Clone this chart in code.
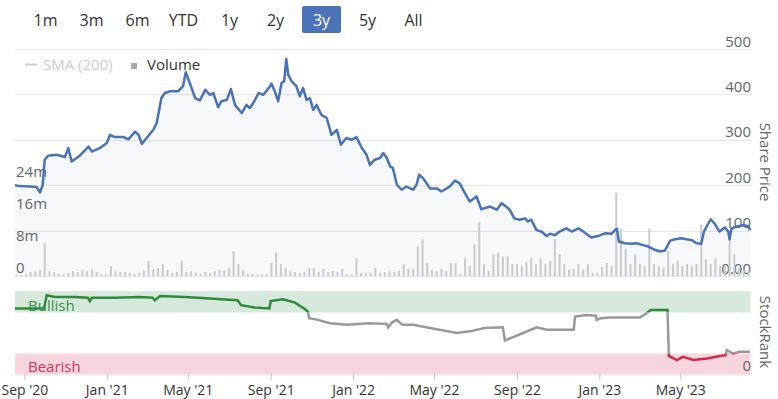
<!DOCTYPE html>
<html>
<head>
<meta charset="utf-8">
<script src="https://cdn.jsdelivr.net/npm/d3@7"></script>
<style>
  body { margin: 0; background: #fff; }
  svg { display: block; font-family: 'Open Sans', sans-serif; }
</style>
</head>
<body>
<div id="chart"></div>
<script>
// range selector buttons
const rangeButtons = ['1m', '3m', '6m', 'YTD', '1y', '2y', '3y', '5y', 'All']
const selectedRange = '3y'

// share price
const prices = [
  ['2020-08-18', 200], ['2020-08-25', 198], ['2020-09-09', 197], ['2020-09-19', 196],
  ['2020-09-24', 184], ['2020-09-28', 200], ['2020-10-01', 256], ['2020-10-06', 265],
  ['2020-10-19', 267], ['2020-10-31', 262], ['2020-11-05', 282], ['2020-11-10', 252],
  ['2020-11-22', 265], ['2020-12-05', 285], ['2020-12-10', 274], ['2020-12-22', 282],
  ['2021-01-01', 293], ['2021-01-06', 311], ['2021-01-13', 306], ['2021-01-26', 306],
  ['2021-02-02', 301], ['2021-02-12', 318], ['2021-02-17', 311], ['2021-02-22', 291],
  ['2021-03-01', 304], ['2021-03-11', 322], ['2021-03-16', 337], ['2021-03-23', 392],
  ['2021-03-28', 403], ['2021-04-05', 407], ['2021-04-17', 407], ['2021-04-24', 418],
  ['2021-04-28', 449], ['2021-05-04', 425], ['2021-05-12', 392], ['2021-05-19', 387],
  ['2021-05-27', 410], ['2021-06-03', 399], ['2021-06-08', 403], ['2021-06-15', 372],
  ['2021-06-20', 385], ['2021-06-28', 388], ['2021-07-04', 412], ['2021-07-10', 377],
  ['2021-07-20', 359], ['2021-07-27', 377], ['2021-08-01', 370], ['2021-08-06', 381],
  ['2021-08-14', 403], ['2021-08-21', 399], ['2021-08-31', 418], ['2021-09-02', 424],
  ['2021-09-07', 407], ['2021-09-12', 385], ['2021-09-17', 425], ['2021-09-21', 429],
  ['2021-09-24', 478], ['2021-09-27', 443], ['2021-10-02', 429], ['2021-10-09', 418],
  ['2021-10-14', 396], ['2021-10-19', 414], ['2021-10-24', 388], ['2021-10-29', 392],
  ['2021-11-03', 366], ['2021-11-08', 377], ['2021-11-15', 355], ['2021-11-23', 348],
  ['2021-11-30', 311], ['2021-12-08', 322], ['2021-12-14', 289], ['2021-12-22', 304],
  ['2021-12-30', 300], ['2022-01-06', 306], ['2022-01-14', 282], ['2022-01-21', 267],
  ['2022-01-26', 245], ['2022-02-02', 256], ['2022-02-10', 260], ['2022-02-15', 271],
  ['2022-02-20', 260], ['2022-02-25', 241], ['2022-03-01', 238], ['2022-03-07', 201],
  ['2022-03-14', 190], ['2022-03-21', 197], ['2022-03-31', 190], ['2022-04-05', 201],
  ['2022-04-09', 223], ['2022-04-15', 215], ['2022-04-25', 193], ['2022-05-05', 193],
  ['2022-05-12', 186], ['2022-05-24', 197], ['2022-06-01', 210], ['2022-06-08', 204],
  ['2022-06-16', 182], ['2022-06-23', 164], ['2022-07-03', 175], ['2022-07-10', 147],
  ['2022-07-23', 153], ['2022-08-02', 146], ['2022-08-09', 160], ['2022-08-16', 153],
  ['2022-08-21', 146], ['2022-08-28', 127], ['2022-09-05', 124], ['2022-09-13', 127],
  ['2022-09-17', 120], ['2022-09-22', 124], ['2022-09-30', 101], ['2022-10-07', 98],
  ['2022-10-15', 88], ['2022-10-20', 93], ['2022-10-27', 90], ['2022-11-03', 98],
  ['2022-11-13', 105], ['2022-11-21', 98], ['2022-12-01', 105], ['2022-12-08', 98],
  ['2022-12-20', 85], ['2022-12-30', 88], ['2023-01-09', 94], ['2023-01-19', 93],
  ['2023-01-24', 101], ['2023-01-27', 104], ['2023-01-30', 76], ['2023-02-08', 72],
  ['2023-02-18', 71], ['2023-02-25', 72], ['2023-03-07', 68], ['2023-03-14', 65],
  ['2023-03-22', 59], ['2023-04-01', 54], ['2023-04-08', 56], ['2023-04-16', 78],
  ['2023-04-23', 81], ['2023-05-03', 83], ['2023-05-10', 81], ['2023-05-18', 79],
  ['2023-05-25', 72], ['2023-06-01', 71], ['2023-06-05', 98], ['2023-06-09', 109],
  ['2023-06-15', 125], ['2023-06-21', 115], ['2023-06-28', 98], ['2023-07-06', 107],
  ['2023-07-11', 98], ['2023-07-13', 81], ['2023-07-16', 105], ['2023-07-23', 109],
  ['2023-08-02', 112], ['2023-08-09', 110], ['2023-08-13', 101]
]

// weekly volume in millions, first week starting 17 Aug 2020
const volumeStart = '2020-08-17'
const volume = [
  0.3, 0.3, 0.5, 1.0, 1.2, 1.5, 8.4, 1.2, 1.0, 0.6,
  0.4, 0.8, 1.2, 1.0, 1.5, 1.2, 1.6, 1.0, 0.5, 0.4,
  2.5, 1.2, 1.0, 1.0, 0.8, 0.5, 0.8, 1.2, 3.8, 1.8,
  2.0, 3.0, 1.6, 0.8, 1.0, 3.8, 1.0, 1.2, 0.8, 0.6,
  1.0, 0.7, 1.2, 1.6, 1.4, 2.0, 6.3, 3.0, 1.5, 0.6,
  0.5, 0.4, 0.4, 0.5, 3.3, 6.0, 3.0, 2.0, 1.2, 1.0,
  0.8, 1.0, 2.0, 2.0, 1.0, 1.8, 1.0, 1.2, 1.0, 1.8,
  0.4, 0.4, 4.6, 0.8, 0.8, 0.8, 2.0, 0.8, 1.0, 1.2,
  1.0, 1.3, 3.0, 1.8, 1.8, 7.4, 9.3, 3.3, 1.5, 1.2,
  1.8, 1.2, 3.3, 3.3, 0.5, 4.6, 2.5, 8.0, 13.6, 3.0,
  1.3, 5.5, 5.8, 5.0, 5.0, 3.0, 3.0, 2.6, 3.5, 4.5,
  3.0, 4.5, 3.0, 3.8, 9.3, 5.5, 3.0, 1.6, 1.8, 3.0,
  1.6, 3.0, 0.8, 0.8, 2.3, 3.3, 2.5, 21.0, 12.0, 6.8,
  3.0, 5.5, 3.0, 2.5, 12.0, 3.0, 2.5, 2.2, 6.3, 3.0,
  3.8, 2.5, 3.0, 2.5, 3.0, 13.0, 4.3, 3.0, 4.5, 2.5,
  2.5, 10.5, 5.5, 2.0, 1.5, 1.5
]

// StockRank (0-100)
const stockRank = [
  ['2020-08-18', 80], ['2020-09-30', 80], ['2020-10-04', 96], ['2020-10-16', 94],
  ['2020-11-15', 94], ['2020-12-04', 93], ['2020-12-07', 89], ['2020-12-10', 93],
  ['2021-01-13', 93], ['2021-02-19', 94], ['2021-03-10', 93], ['2021-03-13', 90],
  ['2021-03-21', 95], ['2021-04-27', 94], ['2021-06-03', 92], ['2021-06-25', 91],
  ['2021-07-14', 90], ['2021-07-19', 84], ['2021-08-08', 81], ['2021-08-30', 80],
  ['2021-09-01', 89], ['2021-09-19', 91], ['2021-10-07', 87], ['2021-10-22', 79],
  ['2021-10-26', 76], ['2021-10-28', 68], ['2021-11-10', 66], ['2021-11-28', 62],
  ['2021-12-23', 60], ['2022-01-26', 62], ['2022-02-20', 61], ['2022-02-22', 57],
  ['2022-02-28', 63], ['2022-03-07', 66], ['2022-03-15', 60], ['2022-03-31', 60],
  ['2022-04-25', 56], ['2022-06-04', 50], ['2022-06-23', 52], ['2022-07-15', 56],
  ['2022-08-11', 57], ['2022-08-14', 41], ['2022-08-26', 45], ['2022-09-10', 50],
  ['2022-09-30', 57], ['2022-10-15', 54], ['2022-11-24', 54], ['2022-11-26', 70],
  ['2022-12-13', 72], ['2022-12-27', 71], ['2022-12-28', 66], ['2023-01-03', 68],
  ['2023-01-17', 69], ['2023-03-02', 69], ['2023-03-12', 74], ['2023-03-18', 78],
  ['2023-04-12', 78], ['2023-04-14', 22], ['2023-04-26', 17], ['2023-05-05', 21],
  ['2023-05-20', 17], ['2023-06-10', 19], ['2023-06-29', 22], ['2023-07-07', 23],
  ['2023-07-09', 29], ['2023-07-18', 25], ['2023-07-28', 27], ['2023-08-12', 27]
]

const dateStart = '2020-08-18'
const dateEnd = '2023-08-13'
const dateTicks = ['2020-09-01', '2021-01-01', '2021-05-01', '2021-09-01', '2022-01-01',
  '2022-05-01', '2022-09-01', '2023-01-01', '2023-05-01']
const priceTicks = [0, 100, 200, 300, 400, 500]
const volumeTicks = [0, 8, 16, 24]
const bullishLevel = 75
const bearishLevel = 25

const width = 778
const height = 399
const plot = { left: 15, right: 750.5 }
const pricePane = { top: 49, bottom: 276 }
const rankPane = { top: 292, bottom: 374 }

const parse = d3.timeParse('%Y-%m-%d')

const svg = d3
  .select('#chart')
  .append('svg')
  .attr('width', width)
  .attr('height', height)

const xPositionScale = d3
  .scaleTime()
  .domain([parse(dateStart), parse(dateEnd)])
  .range([plot.left, plot.right])

const priceScale = d3
  .scaleLinear()
  .domain([0, 500])
  .range([pricePane.bottom, pricePane.top])

const volumeScale = d3
  .scaleLinear()
  .domain([0, 57.3])
  .range([pricePane.bottom, pricePane.top])

const rankScale = d3
  .scaleLinear()
  .domain([0, 100])
  .range([rankPane.bottom, rankPane.top])

// range selector
const buttons = svg
  .selectAll('.range-btn')
  .data(rangeButtons)
  .enter()
  .append('g')
  .attr('class', 'range-btn')
  .attr('transform', (d, i) => 'translate(' + (45.5 + i * 46) + ',0)')

buttons
  .filter(d => d === selectedRange)
  .append('rect')
  .attr('x', -19.5)
  .attr('y', 6)
  .attr('width', 39)
  .attr('height', 27)
  .attr('rx', 2)
  .attr('fill', '#4b73b8')

buttons
  .append('text')
  .text(d => d)
  .attr('text-anchor', 'middle')
  .attr('y', 25.5)
  .attr('font-size', 16)
  .attr('fill', d => (d === selectedRange ? '#fff' : '#333'))

// price grid + right axis labels
const priceAxis = d3
  .axisRight(priceScale)
  .tickValues(priceTicks)
  .tickSize(0)
  .tickFormat(d => (d === 0 ? '0.00' : d))

const gridG = svg.append('g').attr('class', 'grid')
gridG
  .selectAll('line')
  .data(priceTicks)
  .enter()
  .append('line')
  .attr('x1', plot.left)
  .attr('x2', plot.right + 1)
  .attr('y1', d => Math.round(priceScale(d)) + 0.5)
  .attr('y2', d => Math.round(priceScale(d)) + 0.5)
  .attr('stroke', '#e6e6e6')

svg
  .append('g')
  .attr('class', 'axis price-axis')
  .attr('transform', 'translate(751,0)')
  .call(priceAxis)
  .call(g => g.select('.domain').remove())
  .call(g =>
    g
      .selectAll('text')
      .attr('x', 0)
      .attr('y', 0)
      .attr('dy', -3)
      .attr('text-anchor', 'end')
      .attr('font-size', 15)
      .attr('font-family', "'Open Sans', sans-serif")
      .attr('fill', '#666')
  )

// volume left labels
const volumeAxis = d3
  .axisLeft(volumeScale)
  .tickValues(volumeTicks)
  .tickSize(0)
  .tickFormat(d => (d === 0 ? '0' : d + 'm'))

svg
  .append('g')
  .attr('class', 'axis volume-axis')
  .attr('transform', 'translate(' + plot.left + ',0)')
  .call(volumeAxis)
  .call(g => g.select('.domain').remove())
  .call(g =>
    g
      .selectAll('text')
      .attr('x', 1)
      .attr('y', 0)
      .attr('dy', -4)
      .attr('text-anchor', 'start')
      .attr('font-size', 15)
      .attr('font-family', "'Open Sans', sans-serif")
      .attr('fill', '#666')
  )

// clip for price pane
svg
  .append('clipPath')
  .attr('id', 'price-clip')
  .append('rect')
  .attr('x', plot.left)
  .attr('y', pricePane.top - 10)
  .attr('width', plot.right - plot.left + 1)
  .attr('height', pricePane.bottom - pricePane.top + 10)

const priceG = svg.append('g').attr('clip-path', 'url(#price-clip)')

const priceData = prices.map(d => ({ date: parse(d[0]), value: d[1] }))

priceG
  .append('path')
  .datum(priceData)
  .attr('fill', 'rgba(75,115,184,0.05)')
  .attr(
    'd',
    d3
      .area()
      .x(d => xPositionScale(d.date))
      .y0(pricePane.bottom)
      .y1(d => priceScale(d.value))
  )

// volume bars
const weekStart = parse(volumeStart)
priceG
  .selectAll('.vol')
  .data(volume)
  .enter()
  .append('rect')
  .attr('class', 'vol')
  .attr('x', (d, i) => xPositionScale(d3.timeDay.offset(weekStart, i * 7 + 3)) - 1)
  .attr('width', 2)
  .attr('y', d => volumeScale(d))
  .attr('height', d => pricePane.bottom - volumeScale(d))
  .attr('fill', '#c9cacf')

priceG
  .append('path')
  .datum(priceData)
  .attr('fill', 'none')
  .attr('stroke', '#4a72b6')
  .attr('stroke-width', 2.5)
  .attr('stroke-linejoin', 'round')
  .attr(
    'd',
    d3
      .line()
      .x(d => xPositionScale(d.date))
      .y(d => priceScale(d.value))
  )

// legend
svg
  .append('line')
  .attr('x1', 25)
  .attr('x2', 37)
  .attr('y1', 64.5)
  .attr('y2', 64.5)
  .attr('stroke', '#ccc')
  .attr('stroke-width', 2)
svg
  .append('text')
  .text('SMA (200)')
  .attr('x', 43)
  .attr('y', 69.5)
  .attr('font-size', 15)
  .attr('fill', '#ccc')
svg
  .append('rect')
  .attr('x', 131)
  .attr('y', 63)
  .attr('width', 6)
  .attr('height', 6)
  .attr('fill', '#aaa')
svg
  .append('text')
  .text('Volume')
  .attr('x', 147)
  .attr('y', 69.5)
  .attr('font-size', 15)
  .attr('fill', '#333')

// axis titles
svg
  .append('text')
  .text('Share Price')
  .attr('transform', 'translate(760,162) rotate(90)')
  .attr('text-anchor', 'middle')
  .attr('font-size', 15)
  .attr('fill', '#666')
svg
  .append('text')
  .text('StockRank')
  .attr('transform', 'translate(760,332) rotate(90)')
  .attr('text-anchor', 'middle')
  .attr('font-size', 15)
  .attr('fill', '#666')

// stockrank pane
svg
  .append('line')
  .attr('x1', plot.left)
  .attr('x2', plot.right + 1)
  .attr('y1', rankPane.top - 0.5)
  .attr('y2', rankPane.top - 0.5)
  .attr('stroke', '#e6e6e6')

svg
  .append('rect')
  .attr('x', plot.left)
  .attr('width', plot.right - plot.left)
  .attr('y', rankScale(100))
  .attr('height', rankScale(bullishLevel) - rankScale(100))
  .attr('fill', '#d6e9dc')
svg
  .append('rect')
  .attr('x', plot.left)
  .attr('width', plot.right - plot.left)
  .attr('y', rankScale(bearishLevel))
  .attr('height', rankScale(0) - rankScale(bearishLevel))
  .attr('fill', '#f6d6dc')

svg
  .append('text')
  .text('Bullish')
  .attr('x', 28)
  .attr('y', 310.5)
  .attr('font-size', 15)
  .attr('fill', '#3b8f48')
svg
  .append('text')
  .text('Bearish')
  .attr('x', 28)
  .attr('y', 372)
  .attr('font-size', 15)
  .attr('fill', '#d7325c')

svg
  .append('text')
  .text('0')
  .attr('x', 751)
  .attr('y', 371)
  .attr('text-anchor', 'end')
  .attr('font-size', 15)
  .attr('fill', '#666')

const rankData = stockRank.map(d => ({ date: parse(d[0]), value: d[1] }))
const rankLine = d3
  .line()
  .x(d => xPositionScale(d.date))
  .y(d => rankScale(d.value))

const zones = [
  { id: 'zone-bull', y0: 0, y1: rankScale(bullishLevel), color: '#2e8b3c' },
  { id: 'zone-mid', y0: rankScale(bullishLevel), y1: rankScale(bearishLevel), color: '#999' },
  { id: 'zone-bear', y0: rankScale(bearishLevel), y1: height, color: '#cc2b4e' }
]

zones.forEach(z => {
  svg
    .append('clipPath')
    .attr('id', z.id)
    .append('rect')
    .attr('x', plot.left)
    .attr('y', z.y0)
    .attr('width', plot.right - plot.left + 1)
    .attr('height', z.y1 - z.y0)

  svg
    .append('path')
    .datum(rankData)
    .attr('clip-path', 'url(#' + z.id + ')')
    .attr('fill', 'none')
    .attr('stroke', z.color)
    .attr('stroke-width', 2.5)
    .attr('d', rankLine)
})

// bottom date axis
const xAxis = d3
  .axisBottom(xPositionScale)
  .tickValues(dateTicks.map(parse))
  .tickSize(7)
  .tickSizeOuter(0)
  .tickFormat(d3.timeFormat("%b '%y"))

svg
  .append('g')
  .attr('class', 'axis x-axis')
  .attr('transform', 'translate(0,' + (rankPane.bottom + 0.5) + ')')
  .call(xAxis)
  .call(g => g.select('.domain').attr('stroke', '#e0e0e0'))
  .call(g => g.selectAll('.tick line').attr('stroke', '#ccc').attr('y1', -2).attr('y2', 6))
  .call(g =>
    g
      .selectAll('.tick text')
      .attr('y', 20)
      .attr('dy', 0)
      .attr('font-size', 14)
      .attr('font-family', "'Open Sans', sans-serif")
      .attr('fill', '#333')
  )
</script>
</body>
</html>
